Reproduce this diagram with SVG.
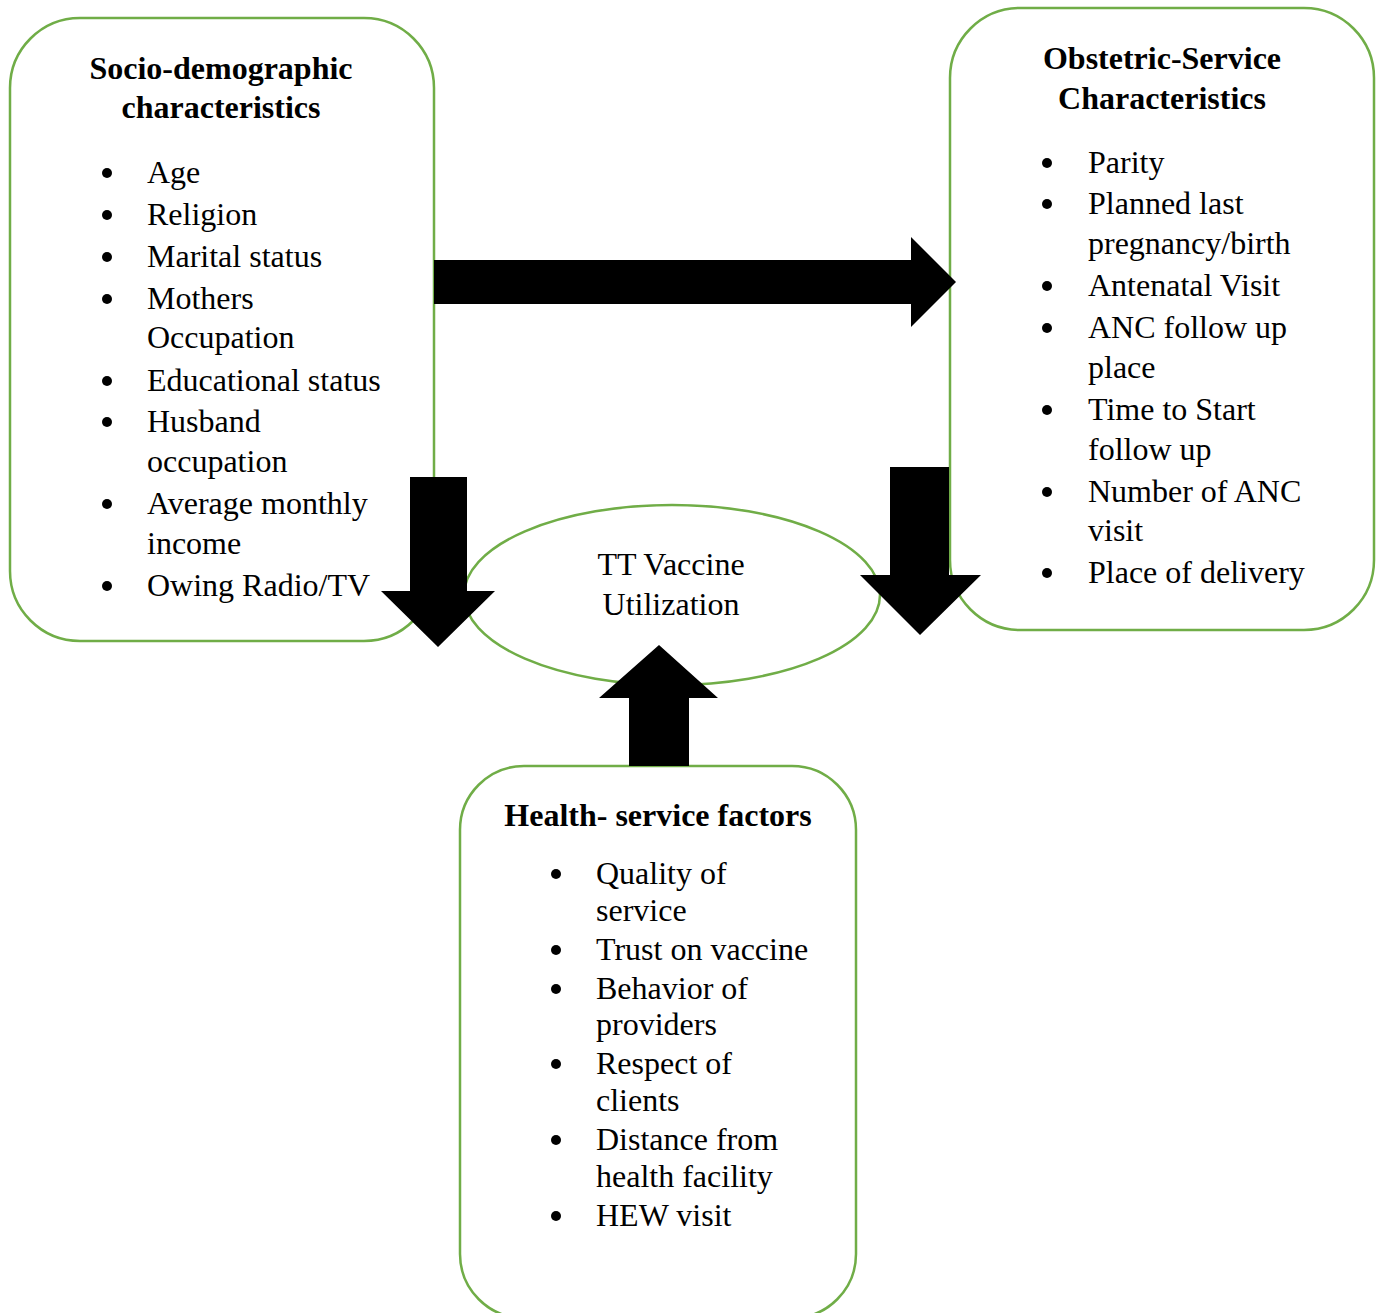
<svg xmlns="http://www.w3.org/2000/svg" width="1378" height="1313" viewBox="0 0 1378 1313">
<style>
.box{fill:#fff;stroke:#70AD47;stroke-width:2.5}
.t{font-family:"Liberation Serif","Times New Roman",serif;font-size:32px;fill:#000}
.h{font-weight:bold;text-anchor:middle}
.c{text-anchor:middle}
.arr{fill:#000}
</style>
<rect width="1378" height="1313" fill="#fff"/>
<g id="socio">
<rect class="box" x="10" y="18" width="424" height="623" rx="70" ry="70"/>
<text class="t h" x="221" y="79">Socio-demographic</text>
<text class="t h" x="221" y="118">characteristics</text>
<g fill="#000">
<circle cx="107" cy="173" r="5"/><circle cx="107" cy="215" r="5"/><circle cx="107" cy="257" r="5"/><circle cx="107" cy="299" r="5"/><circle cx="107" cy="381" r="5"/><circle cx="107" cy="422" r="5"/><circle cx="107" cy="504" r="5"/><circle cx="107" cy="586" r="5"/>
</g>
<text class="t" x="147" y="183">Age</text>
<text class="t" x="147" y="225">Religion</text>
<text class="t" x="147" y="267">Marital status</text>
<text class="t" x="147" y="309">Mothers</text>
<text class="t" x="147" y="348">Occupation</text>
<text class="t" x="147" y="391">Educational status</text>
<text class="t" x="147" y="432">Husband</text>
<text class="t" x="147" y="472">occupation</text>
<text class="t" x="147" y="514">Average monthly</text>
<text class="t" x="147" y="554">income</text>
<text class="t" x="147" y="596">Owing Radio/TV</text>
</g>
<g id="obstetric">
<rect class="box" x="950" y="8" width="424" height="622" rx="70" ry="70"/>
<text class="t h" x="1162" y="69">Obstetric-Service</text>
<text class="t h" x="1162" y="109">Characteristics</text>
<g fill="#000">
<circle cx="1047" cy="163" r="5"/><circle cx="1047" cy="204" r="5"/><circle cx="1047" cy="286" r="5"/><circle cx="1047" cy="328" r="5"/><circle cx="1047" cy="410" r="5"/><circle cx="1047" cy="492" r="5"/><circle cx="1047" cy="573" r="5"/>
</g>
<text class="t" x="1088" y="173">Parity</text>
<text class="t" x="1088" y="214">Planned last</text>
<text class="t" x="1088" y="254">pregnancy/birth</text>
<text class="t" x="1088" y="296">Antenatal Visit</text>
<text class="t" x="1088" y="338">ANC follow up</text>
<text class="t" x="1088" y="378">place</text>
<text class="t" x="1088" y="420">Time to Start</text>
<text class="t" x="1088" y="460">follow up</text>
<text class="t" x="1088" y="502">Number of ANC</text>
<text class="t" x="1088" y="541">visit</text>
<text class="t" x="1088" y="583">Place of delivery</text>
</g>
<g id="health">
<rect class="box" x="460" y="766" width="396" height="552" rx="64" ry="64"/>
<text class="t h" x="658" y="826">Health- service factors</text>
<g fill="#000">
<circle cx="556" cy="874" r="5"/><circle cx="556" cy="950" r="5"/><circle cx="556" cy="989" r="5"/><circle cx="556" cy="1064" r="5"/><circle cx="556" cy="1140" r="5"/><circle cx="556" cy="1216" r="5"/>
</g>
<text class="t" x="596" y="884">Quality of</text>
<text class="t" x="596" y="921">service</text>
<text class="t" x="596" y="960">Trust on vaccine</text>
<text class="t" x="596" y="999">Behavior of</text>
<text class="t" x="596" y="1035">providers</text>
<text class="t" x="596" y="1074">Respect of</text>
<text class="t" x="596" y="1111">clients</text>
<text class="t" x="596" y="1150">Distance from</text>
<text class="t" x="596" y="1187">health facility</text>
<text class="t" x="596" y="1226">HEW visit</text>
</g>
<g id="tt">
<ellipse class="box" cx="672" cy="595" rx="208" ry="90"/>
<text class="t c" x="671" y="575">TT Vaccine</text>
<text class="t c" x="671" y="615">Utilization</text>
</g>
<g id="connectors">
<polygon class="arr" points="434,260 911,260 911,237 956,282 911,327 911,304 434,304"/>
<polygon class="arr" points="410,477 467,477 467,591 495,591 438,647 381,591 410,591"/>
<polygon class="arr" points="890,467 949,467 949,575 981,575 920,635 860,575 890,575"/>
<polygon class="arr" points="629,766 689,766 689,698 718,698 659,645 599,698 629,698"/>
</g>
</svg>
